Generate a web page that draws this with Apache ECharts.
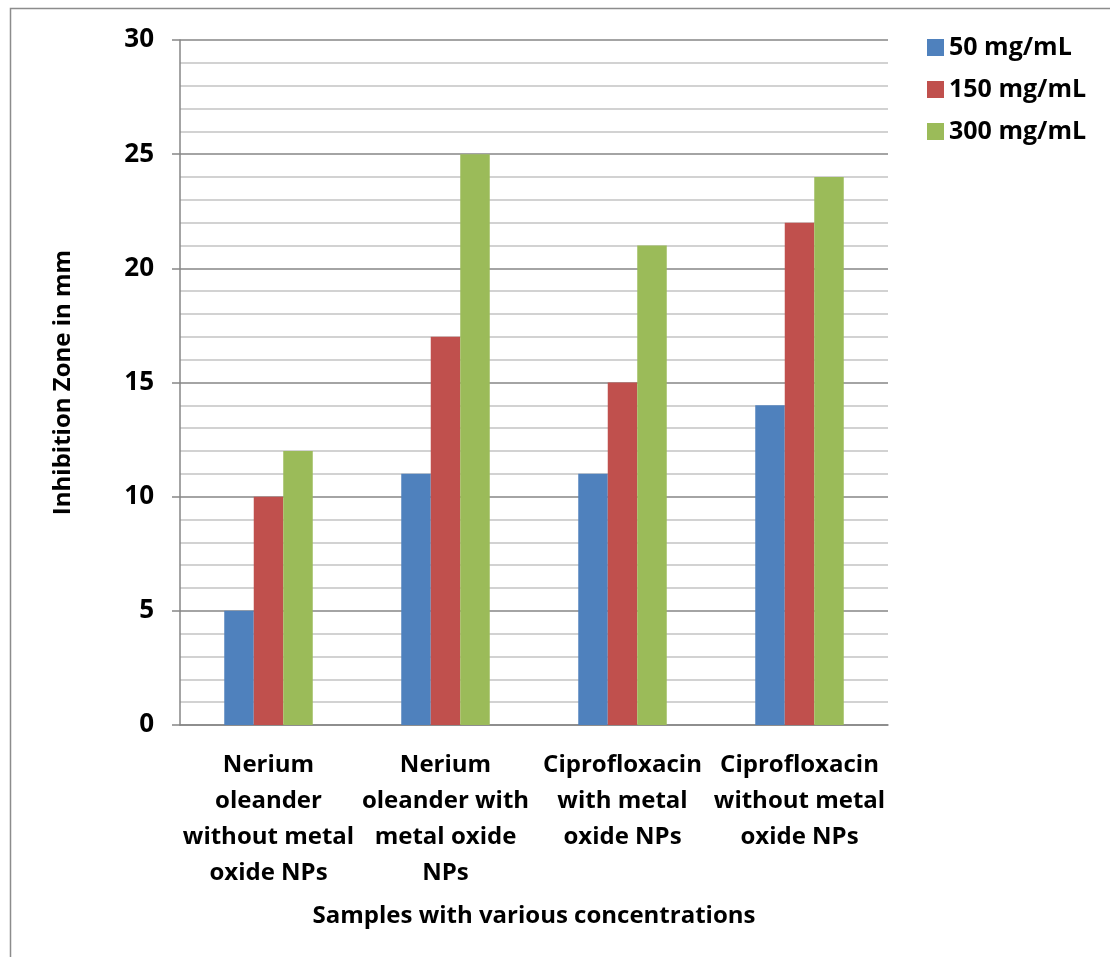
<!DOCTYPE html>
<html>
<head>
<meta charset="utf-8">
<script src="https://cdn.jsdelivr.net/npm/echarts@6/dist/echarts.min.js"></script>
<style>
  html, body { margin: 0; padding: 0; background: #fff; }
  #chart { width: 1110px; height: 957px; }
</style>
</head>
<body>
<div id="chart"></div>
<script>
const categories = [
  'Nerium\noleander\nwithout metal\noxide NPs',
  'Nerium\noleander with\nmetal oxide\nNPs',
  'Ciprofloxacin\nwith metal\noxide NPs',
  'Ciprofloxacin\nwithout metal\noxide NPs'
];
const seriesNames = ['50 mg/mL', '150 mg/mL', '300 mg/mL'];
const values50 = [5, 11, 11, 14];
const values150 = [10, 17, 15, 22];
const values300 = [12, 25, 21, 24];
const colors = ['#4f81bd', '#c0504d', '#9bbb59'];

const font = '"Open Sans", sans-serif';
const chart = echarts.init(document.getElementById('chart'));

chart.setOption({
  animation: false,
  textStyle: { fontFamily: font },
  color: colors,
  graphic: [{
    type: 'rect',
    shape: { x: 10.5, y: 8.5, width: 1200, height: 1000 },
    style: { fill: 'none', stroke: '#8c8c8c', lineWidth: 1.5 },
    silent: true
  }],
  legend: {
    orient: 'vertical',
    left: 922,
    top: 30,
    icon: 'rect',
    itemWidth: 17,
    itemHeight: 17,
    itemGap: 17,
    textStyle: { fontFamily: font, fontWeight: 'bold', fontSize: 25, color: '#000' },
    data: seriesNames
  },
  grid: { left: 180, top: 40, width: 708, height: 685 },
  xAxis: {
    type: 'category',
    data: categories,
    name: 'Samples with various concentrations',
    nameLocation: 'middle',
    nameGap: 179,
    nameTextStyle: { fontFamily: font, fontWeight: 'bold', fontSize: 24, color: '#000' },
    axisLine: { lineStyle: { color: '#868686', width: 1.5 } },
    axisTick: { show: false },
    axisLabel: {
      interval: 0,
      margin: 22,
      fontFamily: font,
      fontWeight: 'bold',
      fontSize: 24,
      lineHeight: 36,
      color: '#000'
    }
  },
  yAxis: {
    type: 'value',
    min: 0,
    max: 30,
    interval: 5,
    name: 'Inhibition Zone in mm',
    nameLocation: 'middle',
    nameRotate: 90,
    nameGap: 105,
    nameTextStyle: { fontFamily: font, fontWeight: 'bold', fontSize: 24, color: '#000' },
    axisLine: { show: true, lineStyle: { color: '#868686', width: 1.5 } },
    axisTick: { show: true, length: 8, lineStyle: { color: '#868686', width: 1.5 } },
    axisLabel: { margin: 26, fontFamily: font, fontWeight: 'bold', fontSize: 26, color: '#000' },
    splitLine: { show: true, lineStyle: { color: '#868686', width: 1.5 } },
    minorTick: { show: false, splitNumber: 5 },
    minorSplitLine: { show: true, lineStyle: { color: '#c4c4c4', width: 1.5 } }
  },
  series: [
    { name: seriesNames[0], type: 'bar', data: values50, barGap: 0, barCategoryGap: '50%' },
    { name: seriesNames[1], type: 'bar', data: values150, barGap: 0, barCategoryGap: '50%' },
    { name: seriesNames[2], type: 'bar', data: values300, barGap: 0, barCategoryGap: '50%' }
  ]
});
</script>
</body>
</html>
